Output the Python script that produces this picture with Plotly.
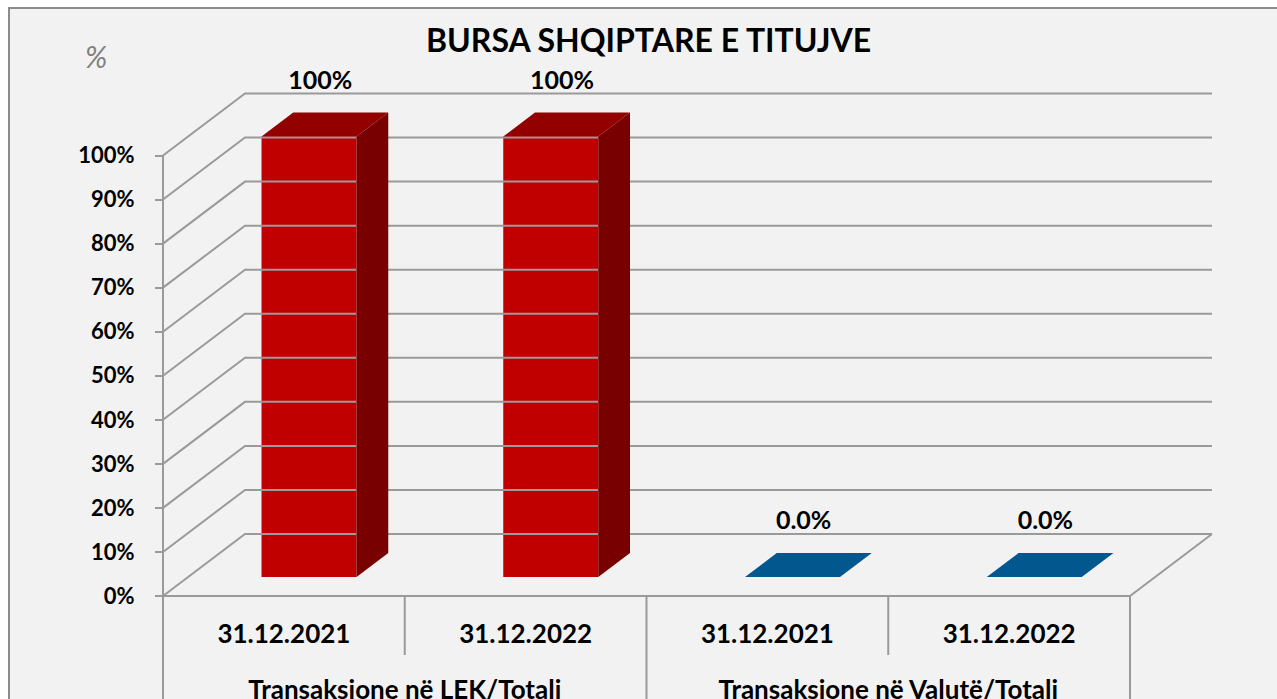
import plotly.graph_objects as go

# ---------------- data ----------------
title = "BURSA SHQIPTARE E TITUJVE"
unit_label = "%"
groups = ["Transaksione në LEK/Totali", "Transaksione në Valutë/Totali"]
dates = ["31.12.2021", "31.12.2022"]
lek_share = [100, 100]        # % of total, LEK transactions
valute_share = [0.0, 0.0]     # % of total, foreign currency transactions
lek_labels = ["100%", "100%"]
valute_labels = ["0.0%", "0.0%"]
y_ticks = [0, 10, 20, 30, 40, 50, 60, 70, 80, 90, 100]
y_tick_text = [f"{v}%" for v in y_ticks]

# ---------------- geometry / style ----------------
W, H = 1277, 699
X0PX, Y0PX = 163, 596            # pixel of origin (front plane)
SX = (1130 - 163) / 4            # px per category unit
SY = (596 - 155.5) / 100         # px per percent
XR = [-X0PX / SX, (W - X0PX) / SX]
YR = [-(H - Y0PX) / SY, Y0PX / SY]
DX = 82 / SX                     # depth offset (x, data units)
DY = 62 / SY                     # depth offset (y, data units)
F_FRONT = 19 / 62                # bar front plane fraction of depth
F_DEPTH = 24 / 62                # bar depth fraction
BAR_W = 95 / SX
LABEL_DX = 0.15
LABEL_DY = 16.6

FONT = "Lato, Calibri, Arial, sans-serif"
GRID = "#9a9a9a"
series = [
    dict(values=lek_share, labels=lek_labels, front="#C00000", top="#930000", side="#790000"),
    dict(values=valute_share, labels=valute_labels, front="#00558F", top="#03578F", side="#003A63"),
]

fig = go.Figure()

# ---- 3D frame: walls, floor, gridlines ----
gx, gy = [], []
for v in y_ticks:
    gx += [0, DX, 4 + DX, None]
    gy += [v, v + DY, v + DY, None]
gx += [0, 0, None, 0, 4, 4 + DX, None]
gy += [y_ticks[-1], 0, None, 0, 0, DY, None]
for k in range(5):
    bottom = YR[0] if k % 2 == 0 else -(655 - Y0PX) / SY
    gx += [k, k, None]
    gy += [0, bottom, None]
fig.add_trace(go.Scatter(x=gx, y=gy, mode="lines", line=dict(color=GRID, width=2),
                         hoverinfo="skip", showlegend=False))

# ---- bars ----
cat_index = 0
for s in series:
    for i, v in enumerate(s["values"]):
        c = cat_index + 0.5
        xc = c + F_FRONT * DX
        xl, xrt = xc - BAR_W / 2, xc + BAR_W / 2
        yb = F_FRONT * DY
        yt = v + yb
        ddx, ddy = F_DEPTH * DX, F_DEPTH * DY
        if v > 0:
            fig.add_trace(go.Scatter(
                x=[xrt, xrt + ddx, xrt + ddx, xrt, xrt],
                y=[yb, yb + ddy, yt + ddy, yt, yb],
                fill="toself", fillcolor=s["side"], mode="lines",
                line=dict(width=0, color=s["side"]), hoverinfo="skip", showlegend=False))
            fig.add_trace(go.Bar(x=[xc], y=[v], base=[yb], width=BAR_W,
                                 marker=dict(color=s["front"], line=dict(width=0)),
                                 hoverinfo="skip", showlegend=False))
        fig.add_trace(go.Scatter(
            x=[xl, xrt, xrt + ddx, xl + ddx, xl],
            y=[yt, yt, yt + ddy, yt + ddy, yt],
            fill="toself", fillcolor=s["top"], mode="lines",
            line=dict(width=0, color=s["top"]), hoverinfo="skip", showlegend=False))
        fig.add_trace(go.Scatter(
            x=[c + LABEL_DX], y=[v + LABEL_DY], mode="text", text=[s["labels"][i]],
            textfont=dict(family=FONT, size=25, color="black", weight="bold"),
            hoverinfo="skip", showlegend=False, cliponaxis=False))
        cat_index += 1

# ---- category labels ----
cat_x = [k + 0.5 for k in range(len(groups) * len(dates))]
cat_text = dates * len(groups)
fig.add_trace(go.Scatter(x=cat_x, y=[-(636 - Y0PX) / SY] * len(cat_x), mode="text", text=cat_text,
                         textfont=dict(family=FONT, size=26, color="black", weight="bold"),
                         hoverinfo="skip", showlegend=False, cliponaxis=False))
grp_x = [g * len(dates) + len(dates) / 2 for g in range(len(groups))]
fig.add_trace(go.Scatter(x=grp_x, y=[-(692.5 - Y0PX) / SY] * len(grp_x), mode="text", text=groups,
                         textfont=dict(family=FONT, size=26, color="black", weight="bold"),
                         hoverinfo="skip", showlegend=False, cliponaxis=False))

fig.add_trace(go.Scatter(x=[0], y=[0], yaxis="y2", mode="markers", marker=dict(opacity=0),
                         hoverinfo="skip", showlegend=False))

fig.update_layout(
    width=W, height=H,
    margin=dict(l=0, r=0, t=0, b=0),
    paper_bgcolor="white",
    plot_bgcolor="rgba(0,0,0,0)",
    showlegend=False,
    barmode="overlay",
    xaxis=dict(range=XR, visible=False, fixedrange=True),
    yaxis=dict(range=YR, visible=False, fixedrange=True),
    yaxis2=dict(range=YR, overlaying="y", anchor="free", position=X0PX / W, side="left",
                tickvals=y_ticks, ticktext=y_tick_text, ticks="outside", ticklen=8, tickwidth=2,
                tickcolor=GRID, showgrid=False, zeroline=False, showline=False,
                ticklabelstandoff=16,
                tickfont=dict(family=FONT, size=22, color="black", weight="bold"),
                fixedrange=True),
    shapes=[dict(type="rect", xref="paper", yref="paper", x0=9 / W, x1=1.05, y0=-0.05, y1=1 - 8 / H,
                 fillcolor="#f2f2f2", line=dict(color="#8c8c8c", width=2), layer="below")],
    annotations=[
        dict(text=title, xref="paper", yref="paper", x=648 / W, y=1 - 40 / H, showarrow=False,
             xanchor="center", yanchor="middle",
             font=dict(family=FONT, size=32, color="black", weight="bold")),
        dict(text=unit_label, xref="paper", yref="paper", x=96 / W, y=1 - 56 / H, showarrow=False,
             xanchor="center", yanchor="middle",
             font=dict(family=FONT, size=30, color="#808080", style="italic")),
    ],
)

fig.write_html("out.html", config={"displayModeBar": False},
               post_script="document.body.style.margin='0';document.body.style.overflow='hidden';")
